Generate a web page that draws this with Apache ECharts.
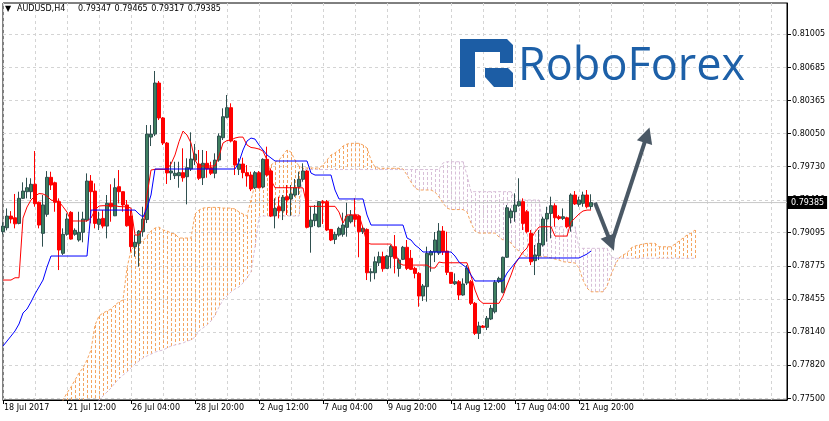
<!DOCTYPE html>
<html><head><meta charset="utf-8">
<script src="https://cdn.jsdelivr.net/npm/echarts@6/dist/echarts.min.js"></script>
<style>html,body{margin:0;padding:0;background:#fff}#c{width:829px;height:421px}</style>
</head><body><div id="c"></div>
<script>
const xTickLabels = ['18 Jul 2017','21 Jul 12:00','26 Jul 04:00','28 Jul 20:00','2 Aug 12:00','7 Aug 04:00','9 Aug 20:00','14 Aug 12:00','17 Aug 04:00','21 Aug 20:00'];
const yTickValues = [0.77500,0.77820,0.78140,0.78455,0.78775,0.79095,0.79410,0.79730,0.80050,0.80365,0.80685,0.81005];
const headerSymbol = 'AUDUSD,H4';
const headerOHLC = ['0.79347','0.79465','0.79317','0.79385'];
const lastPrice = 0.79385;
const logoText = 'RoboForex';

const open = [
0.79105,0.79143,0.79255,0.79239,0.79185,0.79426,0.79490,0.79490,0.79561,0.79388,
0.79089,0.79272,0.79628,0.79576,0.79394,0.78897,0.79080,0.79291,0.79080,0.79025,
0.79099,0.79217,0.79592,0.79496,0.79176,0.79233,0.79159,0.79378,0.79258,0.79538,
0.79490,0.79362,0.79255,0.78961,0.78993,0.79105,0.79222,0.80015,0.80044,0.80535,
0.80199,0.79958,0.79670,0.79644,0.79644,0.79673,0.79634,0.79708,0.79794,0.79756,
0.79624,0.79763,0.79721,0.79667,0.79794,0.80009,0.80205,0.80298,0.79977,0.79705,
0.79756,0.79673,0.79650,0.79528,0.79673,0.79535,0.79801,0.79689,0.79258,0.79345,
0.79306,0.79442,0.79420,0.79458,0.79538,0.79609,0.79689,0.79153,0.79211,0.79153,
0.79394,0.79394,0.79127,0.79031,0.79073,0.79080,0.79147,0.79201,0.79266,0.79255,
0.79105,0.79127,0.78710,0.78710,0.78806,0.78865,0.78752,0.78865,0.78961,0.78752,
0.78839,0.78955,0.78849,0.78752,0.78704,0.78486,0.78576,0.78881,0.78910,0.78900,
0.79111,0.78919,0.78714,0.78604,0.78624,0.78496,0.78611,0.78624,0.78416,0.78127,
0.78198,0.78185,0.78265,0.78335,0.78624,0.78522,0.78859,0.79239,0.79297,0.79355,
0.79394,0.79297,0.79089,0.78826,0.78874,0.78977,0.79227,0.79281,0.79355,0.79249,
0.79233,0.79239,0.79159,0.79458,0.79368,0.79378,0.79458,0.79347];
const close = [
0.79159,0.79255,0.79227,0.79181,0.79426,0.79496,0.79528,0.79561,0.79374,0.79169,
0.79362,0.79628,0.79554,0.79388,0.78929,0.79080,0.79227,0.79034,0.79118,0.79099,
0.79227,0.79592,0.79490,0.79185,0.79227,0.79159,0.79378,0.79345,0.79528,0.79490,
0.79362,0.79162,0.78961,0.79003,0.79111,0.79227,0.80044,0.80044,0.80535,0.80199,
0.79958,0.79670,0.79689,0.79667,0.79673,0.79624,0.79721,0.79804,0.79850,0.79619,
0.79763,0.79708,0.79667,0.79794,0.80025,0.80211,0.80298,0.79977,0.79746,0.79756,
0.79673,0.79641,0.79516,0.79673,0.79528,0.79801,0.79650,0.79255,0.79329,0.79306,
0.79436,0.79410,0.79468,0.79528,0.79609,0.79689,0.79147,0.79217,0.79275,0.79394,
0.79381,0.79121,0.79025,0.79080,0.79137,0.79169,0.79255,0.79266,0.79224,0.79105,
0.79137,0.78710,0.78720,0.78816,0.78865,0.78749,0.78871,0.78961,0.78849,0.78832,
0.78955,0.78752,0.78743,0.78704,0.78486,0.78583,0.78897,0.78913,0.79025,0.79111,
0.78910,0.78714,0.78608,0.78624,0.78496,0.78602,0.78756,0.78416,0.78127,0.78198,
0.78185,0.78272,0.78368,0.78618,0.78656,0.78859,0.79335,0.79303,0.79362,0.79394,
0.79185,0.79105,0.78816,0.78881,0.78993,0.79227,0.79281,0.79355,0.79239,0.79233,
0.79249,0.79153,0.79458,0.79372,0.79410,0.79458,0.79345,0.79385];
const high = [
0.79195,0.79329,0.79303,0.79468,0.79490,0.79580,0.79624,0.79619,0.79881,0.79394,
0.79458,0.79688,0.79682,0.79586,0.79426,0.79137,0.79281,0.79303,0.79137,0.79297,
0.79297,0.79666,0.79650,0.79570,0.79297,0.79313,0.79458,0.79561,0.79619,0.79698,
0.79490,0.79410,0.79313,0.79073,0.79121,0.79345,0.80131,0.80131,0.80651,0.80555,
0.80208,0.79968,0.79778,0.79778,0.79778,0.79907,0.79811,0.80061,0.79949,0.79891,
0.79891,0.79881,0.79778,0.79859,0.80051,0.80292,0.80420,0.80340,0.79987,0.79811,
0.79817,0.79746,0.79682,0.79689,0.79689,0.79811,0.79923,0.79714,0.79426,0.79442,
0.79458,0.79554,0.79554,0.79612,0.79682,0.79763,0.79698,0.79345,0.79362,0.79400,
0.79410,0.79410,0.79131,0.79105,0.79153,0.79288,0.79384,0.79313,0.79426,0.79266,
0.79159,0.79137,0.78752,0.78865,0.78913,0.78913,0.78881,0.78977,0.79073,0.78849,
0.78968,0.79025,0.78929,0.78768,0.78717,0.78602,0.78961,0.78929,0.79102,0.79188,
0.79159,0.79105,0.78717,0.78704,0.78640,0.78656,0.78784,0.78640,0.78429,0.78239,
0.78207,0.78294,0.78400,0.78640,0.78672,0.78865,0.79362,0.79329,0.79474,0.79619,
0.79426,0.79313,0.79121,0.78977,0.79121,0.79249,0.79345,0.79442,0.79378,0.79266,
0.79329,0.79249,0.79474,0.79496,0.79442,0.79490,0.79506,0.79465];
const low = [
0.79080,0.79118,0.79185,0.79137,0.79176,0.79420,0.79426,0.79420,0.79345,0.79137,
0.78961,0.79249,0.79506,0.79297,0.78736,0.78881,0.79066,0.79028,0.79066,0.79009,
0.79003,0.79201,0.79185,0.79137,0.79121,0.79137,0.79041,0.79201,0.79255,0.79378,
0.79297,0.79153,0.78913,0.78865,0.78768,0.79057,0.79188,0.79929,0.80025,0.80179,
0.79939,0.79564,0.79602,0.79612,0.79528,0.79586,0.79368,0.79689,0.79746,0.79602,
0.79554,0.79624,0.79650,0.79619,0.79778,0.79987,0.80195,0.79964,0.79650,0.79650,
0.79619,0.79538,0.79496,0.79516,0.79522,0.79522,0.79634,0.79246,0.79137,0.79233,
0.79217,0.79266,0.79258,0.79442,0.79458,0.79586,0.79137,0.78903,0.79159,0.79147,
0.79179,0.79111,0.79015,0.78986,0.79057,0.79057,0.79057,0.79185,0.79153,0.78859,
0.79083,0.78640,0.78624,0.78647,0.78775,0.78720,0.78746,0.78752,0.78704,0.78672,
0.78832,0.78736,0.78736,0.78656,0.78383,0.78438,0.78432,0.78720,0.78813,0.78881,
0.78881,0.78688,0.78602,0.78592,0.78448,0.78489,0.78592,0.78400,0.78111,0.78073,
0.78178,0.78159,0.78255,0.78319,0.78611,0.78512,0.78852,0.79185,0.79201,0.79345,
0.79121,0.79089,0.78784,0.78688,0.78832,0.78961,0.79009,0.79041,0.79153,0.79217,
0.79217,0.79137,0.79105,0.79362,0.79345,0.79345,0.79329,0.79317];

const tenkan = [
0.78640,0.78640,0.78640,0.78662,0.78662,0.79236,0.79342,0.79410,0.79448,0.79472,
0.79468,0.79448,0.79410,0.79400,0.79394,0.79345,0.79294,0.79208,0.79208,0.79208,
0.79208,0.79208,0.79236,0.79313,0.79352,0.79355,0.79355,0.79355,0.79355,0.79347,
0.79345,0.79345,0.79332,0.79073,0.79073,0.79140,0.79458,0.79698,0.79705,0.79705,
0.79705,0.79705,0.79756,0.79843,0.79971,0.80073,0.80035,0.79958,0.79794,0.79732,
0.79737,0.79737,0.79737,0.79737,0.79833,0.79958,0.79982,0.79987,0.80006,0.80015,
0.80015,0.79939,0.79915,0.79910,0.79900,0.79881,0.79794,0.79602,0.79528,0.79528,
0.79528,0.79528,0.79528,0.79528,0.79528,0.79526,0.79349,0.79349,0.79349,0.79349,
0.79349,0.79349,0.79349,0.79349,0.79294,0.79188,0.79266,0.79266,0.79266,0.79266,
0.79140,0.78996,0.78986,0.78986,0.78986,0.78986,0.78986,0.78986,0.78910,0.78804,
0.78784,0.78784,0.78784,0.78784,0.78784,0.78784,0.78784,0.78756,0.78756,0.78813,
0.78806,0.78806,0.78806,0.78806,0.78806,0.78806,0.78806,0.78682,0.78544,0.78448,
0.78416,0.78416,0.78416,0.78416,0.78416,0.78486,0.78592,0.78688,0.78794,0.78852,
0.78910,0.78948,0.79034,0.79102,0.79150,0.79153,0.79153,0.79153,0.79063,0.79063,
0.79063,0.79063,0.79198,0.79236,0.79275,0.79304,0.79313,0.79313];
const kijun = [
0.78005,0.78053,0.78101,0.78150,0.78217,0.78323,0.78361,0.78429,0.78506,0.78573,
0.78640,0.78765,0.78871,0.78871,0.78871,0.78871,0.78871,0.78871,0.78871,0.78871,
0.78871,0.78871,0.79313,0.79313,0.79313,0.79313,0.79313,0.79313,0.79313,0.79313,
0.79313,0.79313,0.79313,0.79313,0.79275,0.79246,0.79332,0.79458,0.79708,0.79708,
0.79708,0.79708,0.79708,0.79708,0.79708,0.79708,0.79708,0.79708,0.79708,0.79708,
0.79708,0.79708,0.79708,0.79708,0.79708,0.79708,0.79708,0.79708,0.79708,0.79775,
0.79891,0.79977,0.80006,0.79996,0.79939,0.79891,0.79843,0.79814,0.79785,0.79785,
0.79785,0.79785,0.79785,0.79785,0.79785,0.79785,0.79785,0.79669,0.79650,0.79650,
0.79650,0.79650,0.79650,0.79506,0.79420,0.79420,0.79420,0.79420,0.79420,0.79420,
0.79420,0.79266,0.79169,0.79169,0.79169,0.79169,0.79169,0.79169,0.79169,0.79169,
0.79169,0.79044,0.79025,0.78977,0.78948,0.78910,0.78910,0.78910,0.78910,0.78910,
0.78910,0.78910,0.78910,0.78871,0.78813,0.78784,0.78756,0.78688,0.78631,0.78631,
0.78631,0.78631,0.78631,0.78631,0.78631,0.78631,0.78707,0.78756,0.78804,0.78852,
0.78852,0.78852,0.78852,0.78852,0.78852,0.78852,0.78852,0.78852,0.78852,0.78852,
0.78852,0.78852,0.78852,0.78852,0.78852,0.78871,0.78890,0.78919];
const spanA = [
0.77101,0.77101,0.77101,0.77101,0.77101,0.77101,0.77101,0.77101,0.77101,0.77101,
0.77101,0.77101,0.77101,0.77101,0.77101,0.77486,0.77554,0.77611,0.77678,0.77746,
0.77794,0.77871,0.77967,0.78207,0.78294,0.78323,0.78342,0.78361,0.78400,0.78429,
0.78448,0.78756,0.78929,0.78968,0.78996,0.79015,0.79063,0.79111,0.79140,0.79150,
0.79121,0.79111,0.79092,0.79083,0.79044,0.79044,0.79044,0.79044,0.79275,0.79313,
0.79332,0.79337,0.79339,0.79339,0.79337,0.79332,0.79332,0.79332,0.79323,0.79294,
0.79275,0.79256,0.79410,0.79564,0.79621,0.79650,0.79669,0.79746,0.79775,0.79794,
0.79843,0.79891,0.79871,0.79794,0.79737,0.79718,0.79718,0.79718,0.79718,0.79718,
0.79746,0.79794,0.79843,0.79862,0.79891,0.79929,0.79948,0.79955,0.79955,0.79955,
0.79939,0.79910,0.79794,0.79727,0.79715,0.79715,0.79715,0.79715,0.79715,0.79715,
0.79708,0.79650,0.79583,0.79525,0.79506,0.79506,0.79506,0.79506,0.79487,0.79439,
0.79381,0.79332,0.79318,0.79318,0.79318,0.79318,0.79294,0.79188,0.79111,0.79092,
0.79092,0.79092,0.79092,0.79092,0.79054,0.79025,0.79025,0.78996,0.78948,0.78919,
0.78881,0.78864,0.78864,0.78864,0.78864,0.78864,0.78864,0.78852,0.78842,0.78832,
0.78816,0.78813,0.78808,0.78804,0.78756,0.78640,0.78563,0.78527,0.78527,0.78527,
0.78527,0.78582,0.78688,0.78784,0.78852,0.78881,0.78900,0.78948,0.78967,0.78977,
0.78986,0.78993,0.78993,0.78993,0.78960,0.78960,0.78960,0.78960,0.78986,0.79015,
0.79044,0.79073,0.79092,0.79121];
const spanB = [
0.77000,0.77000,0.77000,0.77000,0.77000,0.77000,0.77000,0.77000,0.77000,0.77000,
0.77000,0.77000,0.77000,0.77000,0.77000,0.77197,0.77197,0.77197,0.77197,0.77197,
0.77341,0.77341,0.77341,0.77341,0.77486,0.77524,0.77563,0.77601,0.77650,0.77688,
0.77726,0.77755,0.77794,0.77832,0.77861,0.77890,0.77909,0.77928,0.77947,0.77957,
0.77967,0.77986,0.78005,0.78015,0.78024,0.78034,0.78053,0.78063,0.78092,0.78150,
0.78179,0.78207,0.78246,0.78303,0.78380,0.78448,0.78486,0.78525,0.78554,0.78573,
0.78611,0.78660,0.78717,0.78957,0.79246,0.79256,0.79256,0.79256,0.79256,0.79256,
0.79256,0.79256,0.79256,0.79256,0.79256,0.79703,0.79703,0.79703,0.79703,0.79703,
0.79703,0.79703,0.79703,0.79703,0.79703,0.79703,0.79703,0.79703,0.79703,0.79703,
0.79703,0.79703,0.79703,0.79703,0.79703,0.79703,0.79703,0.79703,0.79703,0.79703,
0.79703,0.79703,0.79703,0.79703,0.79703,0.79703,0.79703,0.79703,0.79703,0.79703,
0.79766,0.79778,0.79778,0.79778,0.79778,0.79778,0.79650,0.79490,0.79490,0.79490,
0.79490,0.79490,0.79490,0.79490,0.79490,0.79490,0.79490,0.79490,0.79410,0.79410,
0.79410,0.79410,0.79410,0.79410,0.79410,0.79153,0.79153,0.79153,0.79153,0.79153,
0.79153,0.79153,0.79153,0.79153,0.78945,0.78945,0.78945,0.78945,0.78945,0.78945,
0.78945,0.78945,0.78864,0.78849,0.78849,0.78849,0.78849,0.78849,0.78849,0.78849,
0.78849,0.78849,0.78849,0.78849,0.78849,0.78849,0.78849,0.78849,0.78849,0.78849,
0.78849,0.78849,0.78849,0.78849];
// arrows: [barIndex, price] start -> end
const arrowDown = [[148.25, 0.79384], [151.75, 0.78993]];
const arrowUp = [[152.2, 0.78977], [161.3, 0.80035]];

const slots = 197;
const cats = Array.from({length: slots}, (_, i) => String(i));
const FONT = '"DejaVu Sans", sans-serif';
const labelStep = 16, gridStep = 8;
const isLabel = (i) => i % labelStep === 0 && i / labelStep < xTickLabels.length;

const chart = echarts.init(document.getElementById('c'), null, {renderer: 'canvas', width: 829, height: 421});
const option = {
  animation: false,
  backgroundColor: '#ffffff',
  grid: {left: 3, top: 3, width: 784, height: 397, show: true, borderColor: '#000', borderWidth: 1, containLabel: false, outerBoundsMode: 'none'},
  xAxis: {
    type: 'category', data: cats, boundaryGap: false,
    axisLine: {show: true, lineStyle: {color: '#000', width: 1}},
    axisTick: {show: true, length: 4, interval: (i) => isLabel(i), lineStyle: {color: '#000'}},
    axisLabel: {show: true, interval: (i) => isLabel(i), formatter: (v, i) => xTickLabels[i / labelStep] || '',
      align: 'left', margin: 4, color: '#000', fontFamily: FONT, fontSize: 8, padding: [0, 0, 0, 1]},
    splitLine: {show: true, interval: (i) => i % gridStep === 0, lineStyle: {color: '#D4D4D4', type: [3, 3], width: 1}}
  },
  yAxis: {
    type: 'value', position: 'right', min: 0.77486, max: 0.81305,
    axisLine: {show: true, lineStyle: {color: '#000', width: 1}},
    axisTick: {show: true, length: 4, customValues: yTickValues, lineStyle: {color: '#000'}},
    axisLabel: {show: true, customValues: yTickValues, formatter: (v) => Number(v).toFixed(5), margin: 5,
      color: '#000', fontFamily: FONT, fontSize: 8},
    splitLine: {show: true, lineStyle: {color: '#D4D4D4', type: [3, 3], width: 1}}
  },
  series: [
    {
      type: 'custom', name: 'cloud', clip: true, silent: true, z: 1,
      data: spanA.map((a, i) => [i, a, spanB[i]]),
      encode: {x: 0, y: [1, 2]},
      renderItem: (params, api) => {
        const i = api.value(0), a = api.value(1), b = api.value(2);
        const p1 = api.coord([i, a]), p2 = api.coord([i, b]);
        const x = Math.round(p1[0]) + 0.5;
        return {type: 'line', shape: {x1: x, y1: p1[1], x2: x, y2: p2[1]},
          style: {stroke: a >= b ? '#F4A460' : '#D8BFD8', lineWidth: 1, lineDash: [3, 2]}};
      }
    },
    {type: 'line', name: 'Price', z: 2, silent: true, symbol: 'none', clip: false,
      data: [[cats[0], lastPrice], [cats[slots - 1], lastPrice]],
      lineStyle: {color: '#C8C8C8', width: 1},
      endLabel: {show: true, formatter: lastPrice.toFixed(5), backgroundColor: '#000', color: '#fff',
        fontFamily: FONT, fontSize: 8, padding: [3, 3, 2, 3], distance: 1}},
    {type: 'line', name: 'Senkou A', data: spanA, symbol: 'none', silent: true, z: 2,
      lineStyle: {color: '#F4A460', width: 1, type: [3, 2]}},
    {type: 'line', name: 'Senkou B', data: spanB, symbol: 'none', silent: true, z: 2,
      lineStyle: {color: '#D8BFD8', width: 1, type: [3, 2]}},
    {type: 'candlestick', name: 'AUDUSD', z: 3, barWidth: 3,
      data: open.map((o, i) => [o, close[i], low[i], high[i]]),
      itemStyle: {color: '#3E7F60', color0: '#FF0000', borderColor: '#2F4F4F', borderColor0: '#FF0000', borderWidth: 1}},
    {type: 'line', name: 'Tenkan', data: tenkan, symbol: 'none', silent: true, z: 4,
      lineStyle: {color: '#FF0000', width: 1}},
    {type: 'line', name: 'Kijun', data: kijun, symbol: 'none', silent: true, z: 4,
      lineStyle: {color: '#0000FF', width: 1}},
    {type: 'lines', coordinateSystem: 'cartesian2d', z: 6, silent: true,
      symbol: ['none', 'triangle'], symbolSize: [13, 16],
      lineStyle: {color: '#4A5865', width: 4, opacity: 1},
      data: [{coords: arrowDown}, {coords: arrowUp}]}
  ],
  graphic: [
    {type: 'text', x: 5, y: 9, z: 10, style: {text: '\u25BC', font: '8px "DejaVu Sans"', fill: '#000', verticalAlign: 'middle'}},
    {type: 'text', x: 17, y: 9, z: 10, style: {text: headerSymbol, font: '8px "DejaVu Sans"', fill: '#000', verticalAlign: 'middle'}},
    ...headerOHLC.map((t, k) => ({type: 'text', x: 78 + 36.6 * k, y: 9, z: 10,
      style: {text: t, font: '8px "DejaVu Sans"', fill: '#000', verticalAlign: 'middle'}})),
    {type: 'polygon', z: 10, shape: {points: [[460,39],[507,39],[513,45],[513,63],[500,63],[500,52],[475,52],[475,87],[460,87]]},
      style: {fill: '#1C5DA5'}},
    {type: 'polygon', z: 10, shape: {points: [[485,68],[508,68],[513,73],[513,87],[494,87],[485,77]]},
      style: {fill: '#1C5DA5'}},
    {type: 'text', x: 518, y: 67, z: 10, style: {text: logoText, font: '45px "Open Sans"', fill: '#1D60A8', verticalAlign: 'middle'}}
  ]
};
chart.setOption(option);
</script>
</body></html>
